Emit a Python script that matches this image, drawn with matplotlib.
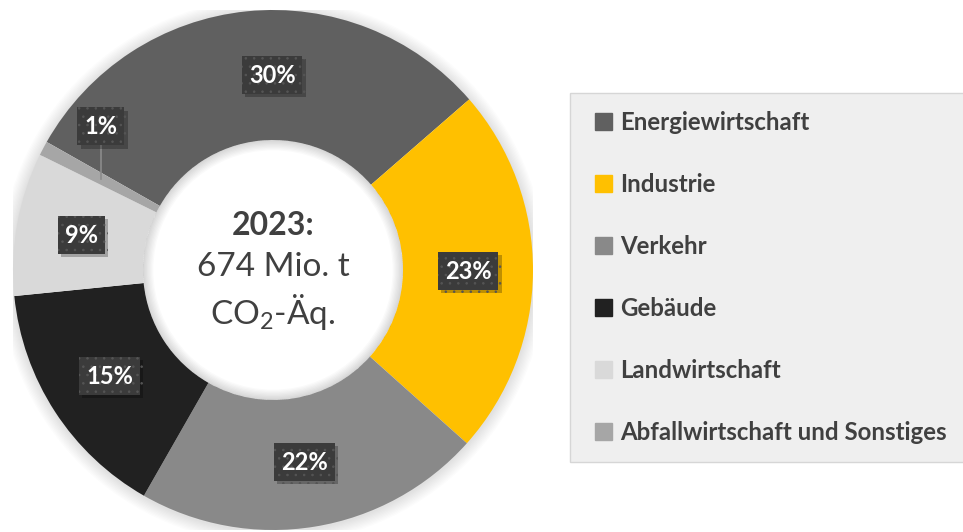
import matplotlib
matplotlib.use('Agg')
import numpy as np
import matplotlib.pyplot as plt
import matplotlib.patches as mpatches
import matplotlib.patheffects as pe
from matplotlib.transforms import IdentityTransform

# Treibhausgasemissionen 2023 nach Sektoren (Mio. t CO2-Äq.)
sektoren = ['Energiewirtschaft', 'Industrie', 'Verkehr', 'Gebäude',
            'Landwirtschaft', 'Abfallwirtschaft und Sonstiges']
emissionen = [205, 155, 146, 102, 60, 6]
jahr = '2023'
farben = ['#606060', '#FFC000', '#898989', '#212121', '#D9D9D9', '#A6A6A6']

plt.rcParams['font.family'] = ['Lato', 'DejaVu Sans']
plt.rcParams['mathtext.fontset'] = 'custom'
plt.rcParams['mathtext.rm'] = 'Lato'
plt.rcParams['hatch.linewidth'] = 0.6

W, H = 963, 532
fig = plt.figure(figsize=(W / 100, H / 100), dpi=100)
fig.patch.set_facecolor('white')
renderer = fig.canvas.get_renderer()

# donut axes: centre (273, 270) px, radius 260 px
cx, cy, R = 273, 270, 260
ax = fig.add_axes([(cx - R) / W, (H - cy - R) / H, 2 * R / W, 2 * R / H])

gesamt = sum(emissionen)
wedges, _ = ax.pie(emissionen, colors=farben, startangle=150.5, counterclock=False,
                   radius=1.0, wedgeprops=dict(width=0.5, linewidth=0, zorder=2))
ax.set_xlim(-1, 1)
ax.set_ylim(-1, 1)
ax.set_aspect('auto')
ax.axis('off')

# soft shadow around the ring
for i in range(10):
    ax.add_patch(mpatches.Annulus((0.0, -0.004), 1.0 + 0.005 * (i + 1), 0.005 * (i + 1) + 0.01,
                                  color='black', alpha=0.012, lw=0, zorder=1))

# inner shadow of the hole
for i in range(8):
    ax.add_patch(mpatches.Annulus((0, 0), 0.5, 0.005 * (i + 1), color='black',
                                  alpha=0.02, lw=0, zorder=3))

ax.text(0, 0.17, jahr + ':', ha='center', va='center', fontsize=23,
        fontweight='bold', color='#404040', zorder=5)
ax.text(0, 0.012, '674 Mio. t', ha='center', va='center', fontsize=24,
        color='#404040', zorder=5)
ax.text(0, -0.16, r'CO$_2$-Äq.', ha='center', va='center', fontsize=24,
        color='#404040', zorder=5)

# data labels (dark dotted boxes)
winkel_korr = [-5.5, 0, 0, 0, 0, 0]
for i, w in enumerate(wedges):
    mid = np.deg2rad((w.theta1 + w.theta2) / 2 + winkel_korr[i])
    x, y = 0.75 * np.cos(mid), 0.75 * np.sin(mid)
    pct = '%d%%' % round(100 * emissionen[i] / gesamt)
    if emissionen[i] / gesamt < 0.02:
        ax.plot([x, x], [y, y + 0.14], color='#8C8C8C', lw=1.2, zorder=4)
        y = y + 0.2
    t = ax.text(x, y, pct, ha='center', va='center', fontsize=17, fontweight='bold',
                color='white', zorder=7)
    bb = t.get_window_extent(renderer)
    px, py = ax.transData.transform((x, y))
    rect = mpatches.Rectangle((bb.x0 - 7, py - 18.5), bb.width + 14, 38,
                              transform=IdentityTransform(), facecolor='#3B3B3B',
                              edgecolor='#555555', hatch='..', linewidth=0,
                              zorder=6, clip_on=False)
    rect.set_path_effects([
        pe.SimplePatchShadow(offset=(2.5, -2.5), shadow_rgbFace='black', alpha=0.25),
        pe.Normal()])
    ax.add_patch(rect)

# legend background
fig.patches.append(mpatches.Rectangle((570 / W, (H - 462) / H), 400 / W, 369 / H,
                                      transform=fig.transFigure, facecolor='#EFEFEF',
                                      edgecolor='#D6D6D6', linewidth=1, zorder=0))
handles = [mpatches.Patch(color=c) for c in farben]
leg = fig.legend(handles, sektoren, loc='upper left',
                 bbox_to_anchor=(595 / W, (H - 111) / H), frameon=False,
                 fontsize=17.3, labelspacing=1.62, handlelength=0.7, handleheight=0.7,
                 handletextpad=0.35, borderpad=0, borderaxespad=0)
for txt in leg.get_texts():
    txt.set_fontweight('bold')
    txt.set_color('#404040')

fig.savefig('out.png', dpi=100)
